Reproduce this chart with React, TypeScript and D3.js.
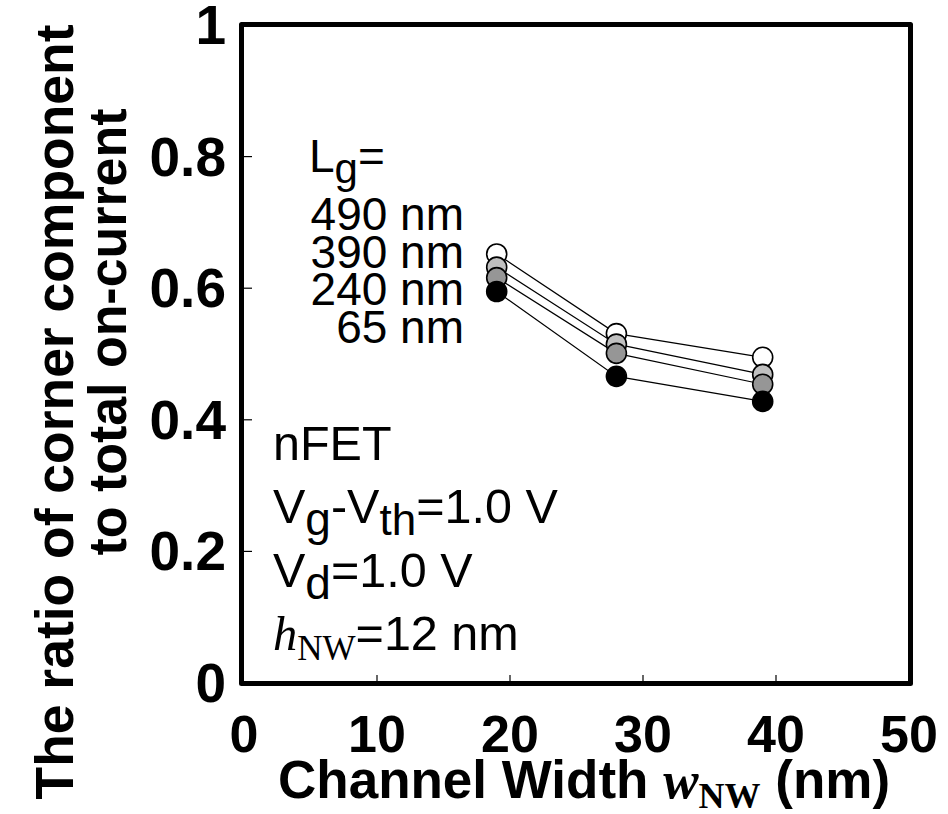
import { FC } from 'react'
import * as d3 from 'd3'

// channel widths (nm)
const widths = [19, 28, 39]

// ratio of corner component, one array per gate length
const lg490 = [0.652, 0.531, 0.495]
const lg390 = [0.632, 0.515, 0.469]
const lg240 = [0.616, 0.501, 0.454]
const lg65 = [0.595, 0.466, 0.428]

const seriesNames = ['490 nm', '390 nm', '240 nm', '65 nm']
const seriesFills = ['#ffffff', '#c0c0c0', '#969696', '#000000']

const xTicks = [0, 10, 20, 30, 40, 50]
const yTicks = [0, 0.2, 0.4, 0.6, 0.8, 1]
const yTickLabels = ['0', '0.2', '0.4', '0.6', '0.8', '1']

const W = 948
const H = 814
const sans = '"Liberation Sans", Arial, sans-serif'
const serif = '"Liberation Serif", "Times New Roman", serif'

const App: FC = () => {
  const x = d3.scaleLinear().domain([0, 50]).range([244, 909])
  const y = d3.scaleLinear().domain([0, 1]).range([683, 25])

  const series = [lg490, lg390, lg240, lg65]
  const line = d3.line<number>()
    .x((_, i) => x(widths[i]))
    .y(d => y(d))

  return (
    <svg width={W} height={H} style={{ position: 'absolute', left: 0, top: 0, background: '#fff' }}>
      {/* inner ticks */}
      {xTicks.slice(1, -1).map(t => (
        <line key={'xt' + t} x1={x(t)} x2={x(t)} y1={y(0)} y2={y(0) - 8} stroke="#000" strokeWidth={1.2} />
      ))}
      {yTicks.slice(1, -1).map(t => (
        <line key={'yt' + t} x1={x(0)} x2={x(0) + 8} y1={y(t)} y2={y(t)} stroke="#000" strokeWidth={1.2} />
      ))}

      {/* connecting lines */}
      {series.map((s, i) => (
        <path key={'l' + i} d={line(s) || ''} fill="none" stroke="#000" strokeWidth={1.2} />
      ))}
      {/* markers */}
      {series.map((s, i) => (
        <g key={'m' + i}>
          {s.map((v, j) => (
            <circle key={j} cx={x(widths[j])} cy={y(v)} r={10} fill={seriesFills[i]} stroke="#000" strokeWidth={1.6} />
          ))}
        </g>
      ))}

      {/* frame */}
      <rect x={x(0) - 2.5} y={y(1) - 0.5} width={x(50) - x(0) + 4} height={y(0) - y(1) + 1}
        fill="none" stroke="#000" strokeWidth={5} strokeLinejoin="round" />

      {/* tick labels */}
      {yTicks.map((t, i) => (
        <text key={'yl' + t} x={226} y={y(t) + 19} textAnchor="end" fontFamily={sans} fontWeight="bold" fontSize={55}>
          {yTickLabels[i]}
        </text>
      ))}
      {xTicks.map(t => (
        <text key={'xl' + t} x={x(t)} y={752} textAnchor="middle" fontFamily={sans} fontWeight="bold" fontSize={52}>
          {t}
        </text>
      ))}

      {/* axis titles */}
      <text x={278} y={798} fontFamily={sans} fontWeight="bold" fontSize={53}>
        Channel Width <tspan fontFamily={serif} fontStyle="italic">w</tspan>
        <tspan fontFamily={serif} fontSize={36} dy={10}>NW</tspan>
        <tspan dy={-10}> (nm)</tspan>
      </text>
      <text transform="translate(73,412) rotate(-90)" textAnchor="middle" fontFamily={sans} fontWeight="bold"
        fontSize={53} textLength={775} lengthAdjust="spacingAndGlyphs">
        The ratio of corner component
      </text>
      <text transform="translate(126,332) rotate(-90)" textAnchor="middle" fontFamily={sans} fontWeight="bold"
        fontSize={53} textLength={447} lengthAdjust="spacingAndGlyphs">
        to total on-current
      </text>

      {/* gate length legend */}
      <text x={309} y={172} fontFamily={sans} fontSize={46}>
        L<tspan fontSize={42} dy={11}>g</tspan><tspan dy={-11}>=</tspan>
      </text>
      {seriesNames.map((n, i) => (
        <text key={n} x={464} y={230 + i * 37.7} textAnchor="end" fontFamily={sans} fontSize={46}>{n}</text>
      ))}

      {/* conditions */}
      <text x={273} y={460} fontFamily={sans} fontSize={48.5}>nFET</text>
      <text x={273} y={523} fontFamily={sans} fontSize={48.5}>
        V<tspan fontSize={46} dy={12}>g</tspan><tspan dy={-12}>-V</tspan>
        <tspan fontSize={44} dy={12}>th</tspan><tspan dy={-12}>=1.0 V</tspan>
      </text>
      <text x={273} y={587} fontFamily={sans} fontSize={48.5}>
        V<tspan fontSize={46} dy={12}>d</tspan><tspan dy={-12}>=1.0 V</tspan>
      </text>
      <text x={273} y={650} fontFamily={sans} fontSize={48.5}>
        <tspan fontFamily={serif} fontStyle="italic">h</tspan>
        <tspan fontFamily={serif} fontSize={35} dy={10}>NW</tspan>
        <tspan dy={-10}>=12 nm</tspan>
      </text>
    </svg>
  )
}

export default App
